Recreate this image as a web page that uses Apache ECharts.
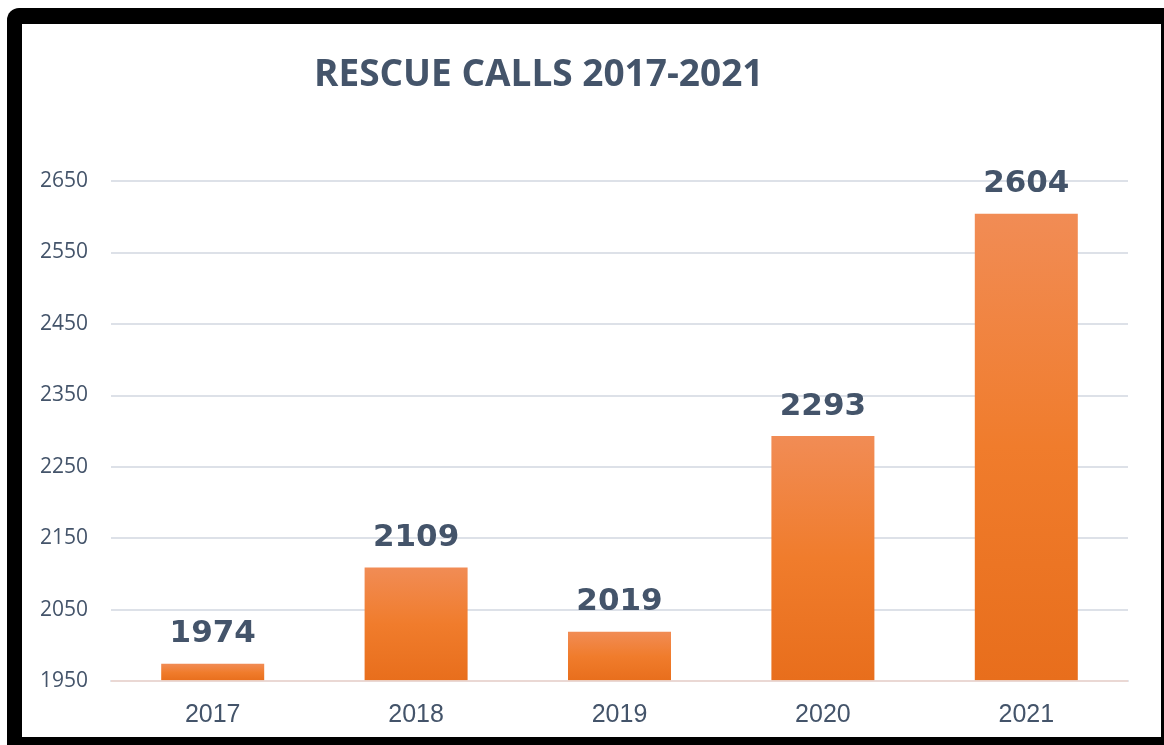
<!DOCTYPE html>
<html>
<head>
<meta charset="utf-8">
<script src="https://cdn.jsdelivr.net/npm/echarts@6/dist/echarts.min.js"></script>
<style>
  html, body { margin:0; padding:0; width:1164px; height:745px; background:#fff; overflow:hidden; }
  #frame { position:absolute; left:7px; top:8px; width:1157px; height:737px; background:#000; border-top-left-radius:12px; }
  #inner { position:absolute; left:22px; top:24px; width:1139px; height:713px; background:#fff; }
  #chart { position:absolute; left:0; top:0; width:1164px; height:745px; }
</style>
</head>
<body>
<div id="frame"></div>
<div id="inner"></div>
<div id="chart"></div>
<script>
const titleText = 'RESCUE CALLS 2017-2021';
const categories = ['2017', '2018', '2019', '2020', '2021'];
const calls = [1974, 2109, 2019, 2293, 2604];
const yMin = 1950, yMax = 2650, yStep = 100;

const chart = echarts.init(document.getElementById('chart'), null, { renderer: 'canvas' });
chart.setOption({
  animation: false,
  backgroundColor: 'transparent',
  title: {
    text: titleText,
    left: 309,
    top: 52,
    textStyle: { fontFamily: 'Open Sans', fontWeight: 'bold', fontSize: 37, color: '#44546A' }
  },
  grid: { left: 111, right: 36, top: 181, bottom: 64, containLabel: false },
  xAxis: {
    type: 'category',
    data: categories,
    axisLine: { show: true, lineStyle: { color: '#DDE1E8', width: 2 } },
    axisTick: { show: false },
    axisLabel: { margin: 22, fontFamily: 'Liberation Sans', fontSize: 25, color: '#44546A' }
  },
  yAxis: {
    type: 'value',
    min: yMin, max: yMax, interval: yStep,
    axisLine: { show: false },
    axisTick: { show: false },
    splitLine: { lineStyle: { color: '#DDE1E8', width: 2 } },
    axisLabel: {
      margin: 23, fontFamily: 'Open Sans', fontSize: 21, color: '#44546A',
      formatter: function (v) { return String(v); }
    }
  },
  series: [{
    type: 'bar',
    data: calls,
    barWidth: 103,
    itemStyle: {
      color: new echarts.graphic.LinearGradient(0, 0, 0, 1, [
        { offset: 0, color: '#F18C55' },
        { offset: 0.5, color: '#F07C2C' },
        { offset: 1, color: '#E86E1C' }
      ])
    },
    label: {
      show: true, position: 'top', distance: 14,
      fontFamily: 'DejaVu Sans', fontWeight: 'bold', fontSize: 31, color: '#44546A'
    },
    markLine: {
      silent: true, symbol: 'none', label: { show: false },
      lineStyle: { color: 'rgba(235,215,210,0.9)', width: 2, type: 'solid' },
      data: [{ yAxis: yMin }]
    }
  }]
});
</script>
</body>
</html>
